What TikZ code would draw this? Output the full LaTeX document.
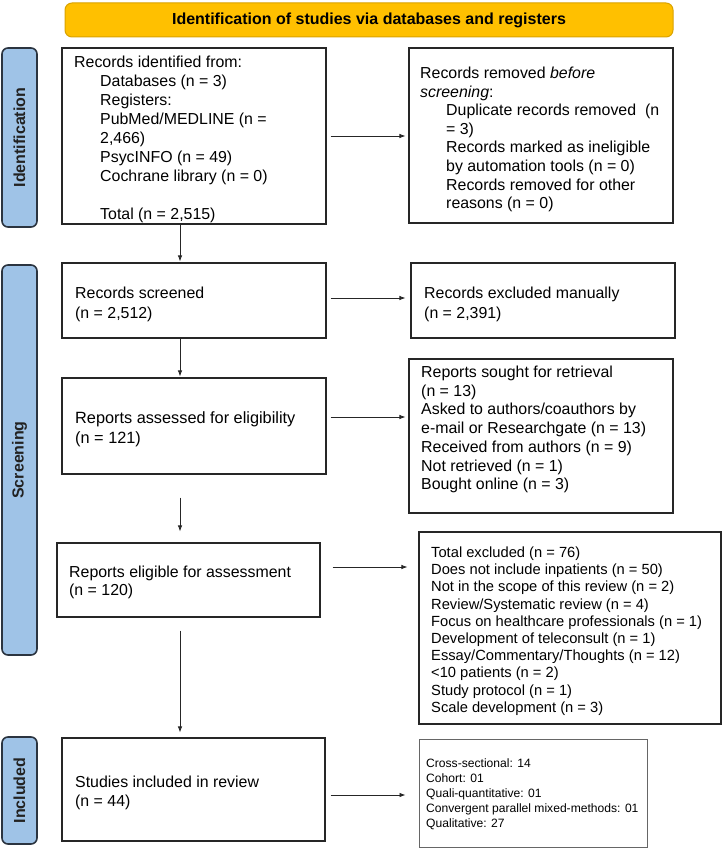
\documentclass[tikz,border=0pt]{standalone}
\usepackage{fontspec}
\setmainfont{Liberation Sans}
\usetikzlibrary{arrows.meta}
\definecolor{hdrfill}{HTML}{FFC000}
\definecolor{hdrdraw}{HTML}{D9A200}
\definecolor{barfill}{HTML}{9FC3E7}
\definecolor{bardraw}{HTML}{2B3440}
\definecolor{lbl}{HTML}{222222}
\begin{document}
\begin{tikzpicture}[x=1pt,y=-1pt,
  box/.style={draw=black!85, line width=1.2pt, rectangle, inner sep=0pt},
  greybox/.style={draw=black!60, line width=1pt, rectangle, inner sep=0pt},
  txt/.style={inner sep=0pt, align=left, anchor=west},
  arr/.style={-{Latex[length=6pt,width=4.5pt]}, line width=0.75pt, draw=black!85},
  bar/.style={draw=bardraw, fill=barfill, line width=1.6pt, rounded corners=6pt, inner sep=0pt,
    rotate=90, text=lbl, font=\bfseries\fontsize{16}{19}\selectfont},
  hdr/.style={draw=hdrdraw, fill=hdrfill, line width=1pt, rounded corners=7pt, inner sep=0pt,
    font=\bfseries\fontsize{16}{19}\selectfont}]
\useasboundingbox (0,0) rectangle (722,848);

% header
\node[hdr, minimum width=608pt, minimum height=34pt] (hdr) at (369,20) {Identification of studies via databases and registers};

% side bars
\node[bar, minimum width=179pt, minimum height=35pt] (bid) at (19.5,137.5) {Identification};
\node[bar, minimum width=390pt, minimum height=35pt] (bsc) at (19.5,460) {Screening};
\node[bar, minimum width=107pt, minimum height=35pt] (bin) at (19.5,790.5) {Included};

% boxes
\node[box, minimum width=264pt, minimum height=176pt] (b1) at (194,136) {};
\node[box, minimum width=264pt, minimum height=175pt] (b2) at (541,135.5) {};
\node[box, minimum width=264pt, minimum height=75pt] (b3) at (194,300.5) {};
\node[box, minimum width=264pt, minimum height=75pt] (b4) at (543,300.5) {};
\node[box, minimum width=264pt, minimum height=96pt] (b5) at (194,426) {};
\node[box, minimum width=264pt, minimum height=154pt] (b6) at (541,436) {};
\node[box, minimum width=263pt, minimum height=74pt] (b7) at (188.5,580) {};
\node[box, minimum width=302pt, minimum height=192pt] (b8) at (570,628) {};
\node[box, minimum width=263pt, minimum height=103pt] (b9) at (193.5,789.5) {};
\node[greybox, minimum width=228pt, minimum height=108pt] (b10) at (533,793) {};

% texts
\node[txt, font=\fontsize{15.9}{19}\selectfont] (t1) at (74,139.5) {Records identified from:\\
\hspace*{26pt}Databases (n = 3)\\
\hspace*{26pt}Registers:\\
\hspace*{26pt}PubMed/MEDLINE (n =\\
\hspace*{26pt}2,466)\\
\hspace*{26pt}PsycINFO (n = 49)\\
\hspace*{26pt}Cochrane library (n = 0)\\[19pt]
\hspace*{26pt}Total (n = 2,515)};

\node[txt, font=\fontsize{15.9}{18.6}\selectfont] (t2) at (420,139.5) {Records removed \textit{before}\\
\textit{screening}:\\
\hspace*{26pt}Duplicate records removed\ \ (n\\
\hspace*{26pt}= 3)\\
\hspace*{26pt}Records marked as ineligible\\
\hspace*{26pt}by automation tools (n = 0)\\
\hspace*{26pt}Records removed for other\\
\hspace*{26pt}reasons (n = 0)};

\node[txt, font=\fontsize{15.9}{20}\selectfont] (t3) at (75,304.5) {Records screened\\(n = 2,512)};
\node[txt, font=\fontsize{15.9}{20}\selectfont] (t4) at (424,304.5) {Records excluded manually\\(n = 2,391)};
\node[txt, font=\fontsize{16.3}{20}\selectfont] (t5) at (75,429.5) {Reports assessed for eligibility\\(n = 121)};
\node[txt, font=\fontsize{15.9}{18.7}\selectfont] (t6) at (421,429.5) {Reports sought for retrieval\\
(n = 13)\\
Asked to authors/coauthors by\\
e-mail or Researchgate (n = 13)\\
Received from authors (n = 9)\\
Not retrieved (n = 1)\\
Bought online (n = 3)};
\node[txt, font=\fontsize{15.9}{18.3}\selectfont] (t7) at (69,582.5) {Reports eligible for assessment\\(n = 120)};
\node[txt, font=\fontsize{14.7}{17.2}\selectfont] (t8) at (431,631) {Total excluded (n = 76)\\
Does not include inpatients (n = 50)\\
Not in the scope of this review (n = 2)\\
Review/Systematic review (n = 4)\\
Focus on healthcare professionals (n = 1)\\
Development of teleconsult (n = 1)\\
Essay/Commentary/Thoughts (n = 12)\\
<10 patients (n = 2)\\
Study protocol (n = 1)\\
Scale development (n = 3)};
\node[txt, font=\fontsize{15.9}{19}\selectfont] (t9) at (75,793) {Studies included in review\\(n = 44)};
\node[txt, font=\fontsize{12.1}{15}\selectfont] (t10) at (426,794) {Cross-sectional: 14\\
Cohort: 01\\
Quali-quantitative: 01\\
Convergent parallel mixed-methods: 01\\
Qualitative: 27};

% horizontal connectors
\draw[arr, shorten <=4pt, shorten >=3pt] (b1.east) -- (b1.east -| b2.west);
\draw[arr, shorten <=4pt, shorten >=5pt] ([yshift=2.5pt]b3.east) -- ([yshift=2.5pt]b3.east -| b4.west);
\draw[arr, shorten <=4pt, shorten >=3pt] ([yshift=9pt]b5.east) -- ([yshift=9pt]b5.east -| b6.west);
\draw[arr, shorten <=12pt, shorten >=11pt] ([yshift=13pt]b7.east) -- ([yshift=13pt]b7.east -| b8.west);
\draw[arr, shorten <=5pt, shorten >=13pt] ([yshift=-5.5pt]b9.east) -- ([yshift=-5.5pt]b9.east -| b10.west);

% vertical connectors
\draw[arr, shorten >=1pt] ([xshift=-14pt]b1.south) -- ([xshift=-14pt]b1.south |- b3.north);
\draw[arr, shorten >=1pt] ([xshift=-14pt]b3.south) -- ([xshift=-14pt]b3.south |- b5.north);
\draw[arr, shorten <=23pt, shorten >=11pt] ([xshift=-14pt]b5.south) -- ([xshift=-14pt]b5.south |- b7.north);
\draw[arr, shorten <=13pt, shorten >=5pt] ([xshift=-8.5pt]b7.south) -- ([xshift=-8.5pt]b7.south |- b9.north);
\end{tikzpicture}
\end{document}
